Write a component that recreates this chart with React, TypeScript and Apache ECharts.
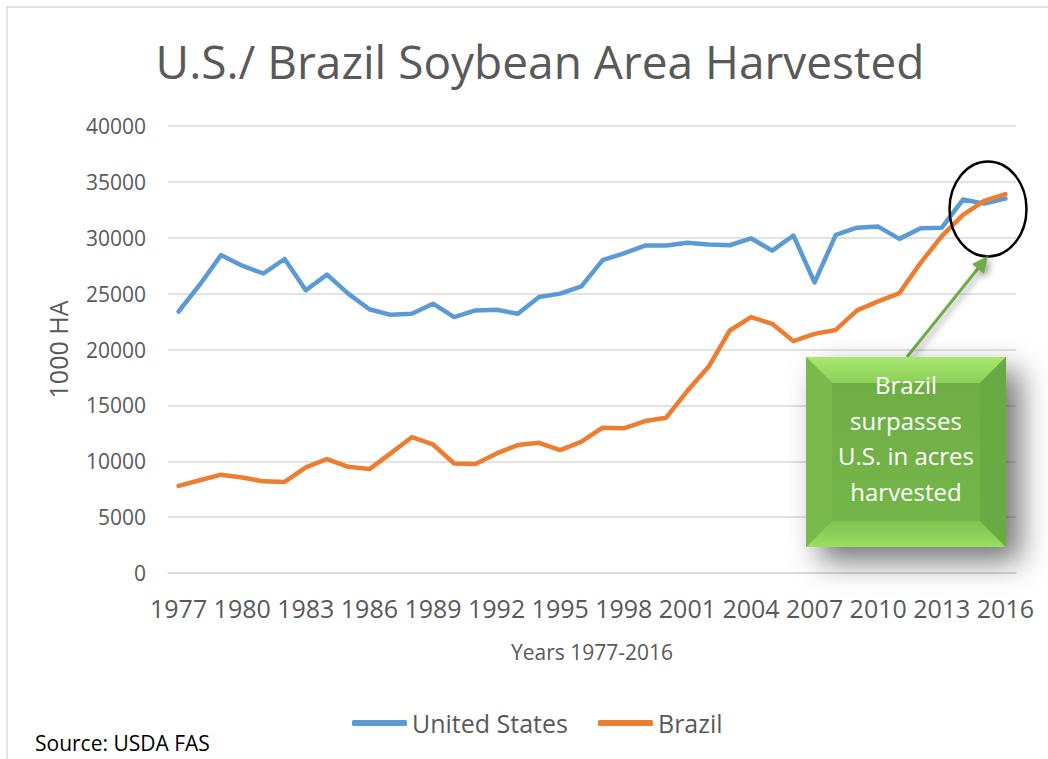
import React, { useEffect, useRef } from "react";
import * as echarts from "echarts";

const years: string[] = [
  "1977","1978","1979","1980","1981","1982","1983","1984","1985","1986",
  "1987","1988","1989","1990","1991","1992","1993","1994","1995","1996",
  "1997","1998","1999","2000","2001","2002","2003","2004","2005","2006",
  "2007","2008","2009","2010","2011","2012","2013","2014","2015","2016",
];

const unitedStates: number[] = [
  23400, 25800, 28450, 27500, 26800, 28100, 25300, 26700, 25000, 23600,
  23100, 23200, 24100, 22900, 23500, 23550, 23200, 24700, 25000, 25650,
  28000, 28600, 29300, 29300, 29550, 29400, 29330, 29950, 28850, 30200,
  26000, 30250, 30900, 31000, 29900, 30850, 30900, 33420, 33050, 33500,
];

const brazil: number[] = [
  7800, 8300, 8800, 8550, 8200, 8150, 9450, 10200, 9500, 9300,
  10700, 12150, 11500, 9800, 9750, 10700, 11450, 11650, 11000, 11750,
  13000, 12950, 13600, 13900, 16300, 18450, 21700, 22900, 22300, 20750,
  21400, 21750, 23500, 24300, 25050, 27750, 30150, 32050, 33300, 33900,
];

const yTicks = { min: 0, max: 40000, interval: 5000 };

const titleText = "U.S./ Brazil Soybean Area Harvested";
const calloutLines = ["Brazil", "surpasses", "U.S. in acres", "harvested"];
const sourceText = "Source: USDA FAS";

const FONT = "'Open Sans', 'Noto Sans', sans-serif";

export default function App() {
  const ref = useRef<HTMLDivElement>(null);

  useEffect(() => {
    if (!ref.current) return;
    const chart = echarts.init(ref.current, undefined, { renderer: "svg" });

    const bx = 806, by = 357, bw = 200, bh = 190, bv = 26;

    chart.setOption({
      animation: false,
      backgroundColor: "#ffffff",
      textStyle: { fontFamily: FONT },
      title: {
        text: titleText,
        left: 535,
        top: 33,
        textAlign: "center",
        textStyle: { fontFamily: FONT, fontSize: 46, fontWeight: "normal", color: "#595959" },
      },
      grid: { left: 168, right: 32, top: 126, bottom: 186, containLabel: false },
      legend: {
        left: 347,
        top: 703,
        icon: "roundRect",
        itemWidth: 55,
        itemHeight: 6,
        itemGap: 30,
        textStyle: { fontFamily: FONT, fontSize: 25, color: "#595959", lineHeight: 30 },
        data: ["United States", "Brazil"],
      },
      xAxis: {
        type: "category",
        data: years,
        boundaryGap: true,
        name: "Years 1977-2016",
        nameLocation: "middle",
        nameGap: 68,
        nameTextStyle: { fontFamily: FONT, fontSize: 21, color: "#595959" },
        axisLine: { show: true, lineStyle: { color: "#d9d9d9", width: 1.5 } },
        axisTick: { show: false },
        axisLabel: { interval: 2, margin: 22, fontSize: 25, color: "#595959", fontFamily: FONT },
      },
      yAxis: {
        type: "value",
        min: yTicks.min,
        max: yTicks.max,
        interval: yTicks.interval,
        name: "1000 HA",
        nameLocation: "middle",
        nameGap: 98,
        nameRotate: 90,
        nameTextStyle: { fontFamily: FONT, fontSize: 25, color: "#595959" },
        axisLine: { show: false },
        axisTick: { show: false },
        axisLabel: {
          margin: 22,
          fontSize: 21,
          color: "#595959",
          fontFamily: FONT,
          formatter: (v: number) => String(v),
        },
        splitLine: { lineStyle: { color: "#d9d9d9", width: 1.5 } },
      },
      series: [
        {
          name: "United States",
          type: "line",
          data: unitedStates,
          symbol: "none",
          color: "#5B9BD5",
          lineStyle: { width: 4.5, color: "#5B9BD5", cap: "round", join: "round" },
        },
        {
          name: "Brazil",
          type: "line",
          data: brazil,
          symbol: "none",
          color: "#ED7D31",
          lineStyle: { width: 4.5, color: "#ED7D31", cap: "round", join: "round" },
        },
      ],
      graphic: [
        {
          type: "rect",
          shape: { x: 7, y: 7, width: 1100, height: 800 },
          style: { fill: "none", stroke: "#d9d9d9", lineWidth: 1.5 },
          silent: true,
          z: 0,
        },
        {
          type: "text",
          left: 35,
          top: 732,
          style: { text: sourceText, fontFamily: FONT, fontSize: 21, fill: "#000000" },
        },
        {
          type: "ellipse",
          shape: { cx: 988, cy: 209, rx: 38.5, ry: 47.5 },
          style: { fill: "none", stroke: "#000000", lineWidth: 2.5 },
          z: 50,
        },
        {
          type: "line",
          shape: { x1: 907, y1: 357, x2: 980, y2: 266 },
          style: {
            stroke: "#70AD47",
            lineWidth: 3,
            shadowBlur: 6,
            shadowColor: "rgba(0,0,0,0.35)",
            shadowOffsetX: 3,
            shadowOffsetY: 3,
          },
          z: 50,
        },
        {
          type: "polygon",
          shape: { points: [[988, 256], [972, 264], [984, 274]] },
          style: {
            fill: "#70AD47",
            shadowBlur: 6,
            shadowColor: "rgba(0,0,0,0.35)",
            shadowOffsetX: 3,
            shadowOffsetY: 3,
          },
          z: 50,
        },
        {
          type: "rect",
          shape: { x: bx, y: by, width: bw, height: bh },
          style: {
            fill: "#72b44a",
            shadowBlur: 30,
            shadowColor: "rgba(0,0,0,0.55)",
            shadowOffsetX: 14,
            shadowOffsetY: 14,
          },
          z: 60,
        },
        {
          type: "polygon",
          shape: { points: [[bx, by], [bx + bw, by], [bx + bw - bv, by + bv], [bx + bv, by + bv]] },
          style: {
            fill: new echarts.graphic.LinearGradient(0, 0, 0, 1, [
              { offset: 0, color: "#a9e870" },
              { offset: 1, color: "#8ccf58" },
            ]),
          },
          z: 61,
        },
        {
          type: "polygon",
          shape: { points: [[bx, by + bh], [bx + bw, by + bh], [bx + bw - bv, by + bh - bv], [bx + bv, by + bh - bv]] },
          style: {
            fill: new echarts.graphic.LinearGradient(0, 0, 0, 1, [
              { offset: 0, color: "#7fc24f" },
              { offset: 1, color: "#9ade62" },
            ]),
          },
          z: 61,
        },
        {
          type: "polygon",
          shape: { points: [[bx, by], [bx + bv, by + bv], [bx + bv, by + bh - bv], [bx, by + bh]] },
          style: { fill: "#7ab94e" },
          z: 61,
        },
        {
          type: "polygon",
          shape: { points: [[bx + bw, by], [bx + bw - bv, by + bv], [bx + bw - bv, by + bh - bv], [bx + bw, by + bh]] },
          style: { fill: "#6aaa42" },
          z: 61,
        },
        {
          type: "rect",
          shape: { x: bx + bv, y: by + bv, width: bw - 2 * bv, height: bh - 2 * bv },
          style: {
            fill: new echarts.graphic.LinearGradient(0, 0, 0, 1, [
              { offset: 0, color: "#6fae45" },
              { offset: 1, color: "#74b549" },
            ]),
          },
          z: 62,
        },
        {
          type: "text",
          x: bx + bw / 2,
          y: by + bh / 2 - 14,
          style: {
            text: calloutLines.join("\n"),
            fontFamily: FONT,
            fontSize: 24,
            lineHeight: 35.5,
            fill: "#ffffff",
            align: "center",
            verticalAlign: "middle",
          },
          z: 63,
        },
      ],
    });

    return () => chart.dispose();
  }, []);

  return (
    <div
      ref={ref}
      style={{ position: "fixed", left: 0, top: 0, width: 1048, height: 759 }}
    />
  );
}
